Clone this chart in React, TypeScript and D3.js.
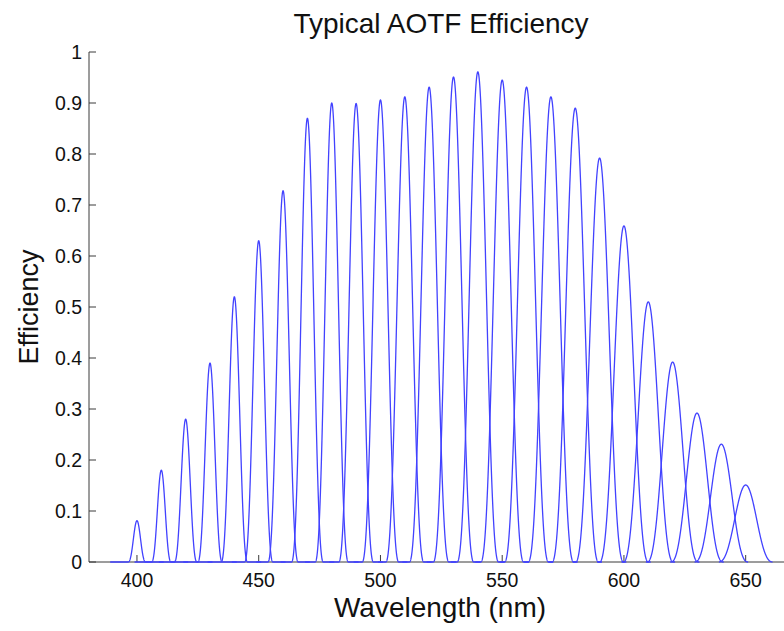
import React from 'react';
import * as d3 from 'd3';

// Filter passband centres (nm), peak efficiencies and half-widths to the first null (nm)
const centers = [400, 410, 420, 430, 440, 450, 460, 470, 480, 490, 500, 510, 520, 530, 540, 550, 560, 570, 580, 590, 600, 610, 620, 630, 640, 650];
const peaks = [0.081, 0.18, 0.28, 0.39, 0.52, 0.63, 0.728, 0.87, 0.9, 0.899, 0.906, 0.912, 0.931, 0.951, 0.961, 0.945, 0.931, 0.912, 0.89, 0.792, 0.659, 0.51, 0.392, 0.292, 0.231, 0.151];
const halfWidths = [3.6, 4.0, 4.6, 5.0, 5.4, 5.8, 6.2, 6.5, 6.8, 7.1, 7.5, 7.8, 8.1, 8.3, 8.5, 8.8, 9.0, 9.3, 9.5, 9.8, 10.0, 10.2, 10.4, 10.6, 10.8, 11.0];
const minSpan = 11; // each curve sampled over at least centre +/- 11 nm

const xTicks = [400, 450, 500, 550, 600, 650];
const yTicks = [0, 0.1, 0.2, 0.3, 0.4, 0.5, 0.6, 0.7, 0.8, 0.9, 1];
const yTickLabels = ['0', '0.1', '0.2', '0.3', '0.4', '0.5', '0.6', '0.7', '0.8', '0.9', '1'];

const title = 'Typical AOTF Efficiency';
const xLabel = 'Wavelength (nm)';
const yLabel = 'Efficiency';

const W = 784;
const H = 631;
const FONT = '"Liberation Sans", Arial, Helvetica, sans-serif';

export default function App() {
  const x = d3.scaleLinear().domain([380.3, 668.2]).range([89, 790]);
  const y = d3.scaleLinear().domain([0, 1]).range([562, 52]);
  const line = d3
    .line<[number, number]>()
    .x((d) => x(d[0]))
    .y((d) => y(d[1]));

  const curves = centers.map((c, i) => {
    const pts: [number, number][] = [];
    const span = Math.max(minSpan, halfWidths[i]);
    const n = 480;
    for (let k = 0; k <= n; k++) {
      const l = c - span + (2 * span * k) / n;
      const u = (l - c) / halfWidths[i];
      let v = 0;
      if (Math.abs(u) < 1) {
        v = u === 0 ? 1 : Math.pow(Math.sin(Math.PI * u) / (Math.PI * u), 2);
      }
      pts.push([l, peaks[i] * v]);
    }
    return pts;
  });

  const axisColor = '#3a3a3a';
  const tickLen = 7;
  const [x0, x1] = x.range();
  const [yb, yt] = y.range();

  return (
    <svg
      width={W}
      height={H}
      viewBox={`0 0 ${W} ${H}`}
      style={{ position: 'absolute', left: 0, top: 0, background: '#fff' }}
    >
      <rect x={0} y={0} width={W} height={H} fill="#fff" />
      {/* axes */}
      <line x1={x0} y1={yb} x2={x1} y2={yb} stroke={axisColor} strokeWidth={1} />
      <line x1={x0} y1={yb} x2={x0} y2={yt} stroke={axisColor} strokeWidth={1} />
      {xTicks.map((t) => (
        <g key={'xt' + t}>
          <line x1={x(t)} x2={x(t)} y1={yb} y2={yb - tickLen} stroke={axisColor} strokeWidth={1} />
          <text x={x(t)} y={587} textAnchor="middle" fontFamily={FONT} fontSize={19.5} fill="#111">
            {t}
          </text>
        </g>
      ))}
      {yTicks.map((t, i) => (
        <g key={'yt' + t}>
          <line x1={x0} x2={x0 + tickLen} y1={y(t)} y2={y(t)} stroke={axisColor} strokeWidth={1} />
          <text
            x={82}
            y={y(t) + 7}
            textAnchor="end"
            fontFamily={FONT}
            fontSize={19.5}
            fill="#111"
          >
            {yTickLabels[i]}
          </text>
        </g>
      ))}
      {/* curves */}
      <g fill="none" stroke="#4242ff" strokeWidth={1.3} strokeLinejoin="round">
        {curves.map((pts, i) => (
          <path key={'c' + centers[i]} d={line(pts) || ''} />
        ))}
      </g>
      {/* labels */}
      <text x={441} y={33} textAnchor="middle" fontFamily={FONT} fontSize={28} fill="#111">
        {title}
      </text>
      <text x={440} y={617} textAnchor="middle" fontFamily={FONT} fontSize={28} fill="#111">
        {xLabel}
      </text>
      <text
        transform={`translate(38, ${(yb + yt) / 2}) rotate(-90)`}
        textAnchor="middle"
        fontFamily={FONT}
        fontSize={27}
        fill="#111"
      >
        {yLabel}
      </text>
    </svg>
  );
}
